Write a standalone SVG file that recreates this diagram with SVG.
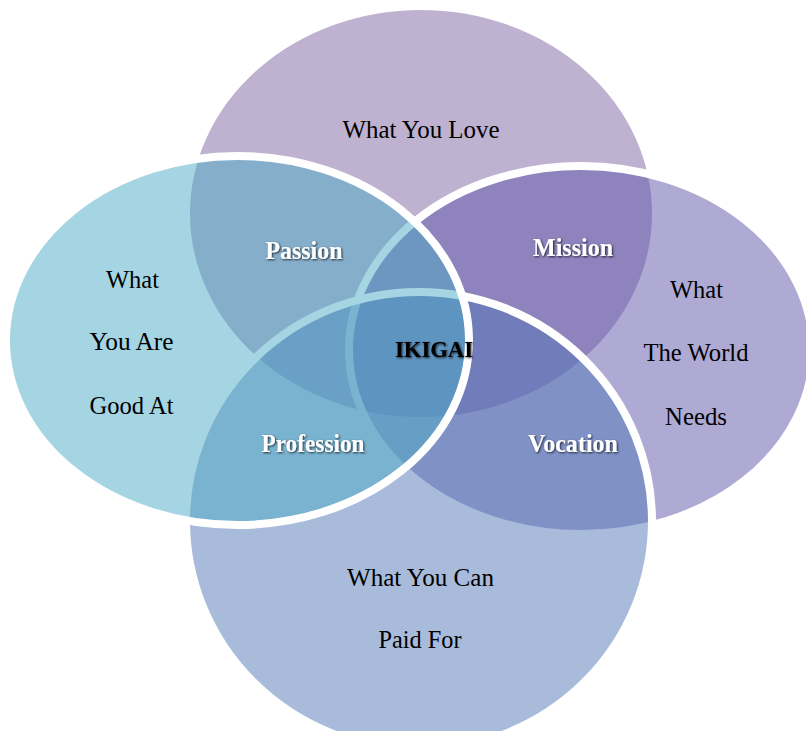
<svg xmlns="http://www.w3.org/2000/svg" width="806" height="731" viewBox="0 0 806 731">
  <style>
    .circ { stroke: #ffffff; stroke-width: 8; fill-opacity: 0.5; }
    .lbl { font-family: "Liberation Serif", "Times New Roman", serif; font-size: 25px; fill: #000000; text-anchor: middle; }
    .ovl { font-family: "Liberation Serif", "Times New Roman", serif; font-size: 25px; font-weight: bold; fill: #ffffff; text-anchor: middle; filter: url(#shadow); }
    .core { font-family: "Liberation Serif", "Times New Roman", serif; font-size: 24px; font-weight: bold; fill: #000000; text-anchor: middle; filter: url(#shadow); }
  </style>
  <defs>
    <filter id="shadow" x="-20%" y="-40%" width="140%" height="180%">
      <feGaussianBlur in="SourceAlpha" stdDeviation="1.3" result="b"/>
      <feOffset in="b" dx="1" dy="1" result="o"/>
      <feComponentTransfer in="o" result="s">
        <feFuncA type="linear" slope="0.8"/>
      </feComponentTransfer>
      <feMerge>
        <feMergeNode in="s"/>
        <feMergeNode in="SourceGraphic"/>
      </feMerge>
    </filter>
  </defs>
  <rect width="806" height="731" fill="#ffffff"/>

  <g id="what-you-love">
    <ellipse class="circ" cx="421" cy="213.5" rx="235" ry="207.5" fill="#8064A2"/>
  </g>
  <g id="what-the-world-needs">
    <ellipse class="circ" cx="581" cy="350" rx="232" ry="184" fill="#5D55A9"/>
  </g>
  <g id="what-you-can-paid-for">
    <ellipse class="circ" cx="419" cy="521" rx="233" ry="229" fill="#5177B7"/>
  </g>
  <g id="what-you-are-good-at">
    <ellipse class="circ" cx="237.5" cy="340.5" rx="231.5" ry="184.5" fill="#4BACC6"/>
  </g>

  <g id="connectors"></g>

  <g id="labels">
    <text class="lbl" x="421" y="138" textLength="157" lengthAdjust="spacingAndGlyphs">What You Love</text>
    <text class="lbl" x="132.5" y="288" textLength="53" lengthAdjust="spacingAndGlyphs">What</text>
    <text class="lbl" x="131.5" y="350" textLength="84" lengthAdjust="spacingAndGlyphs">You Are</text>
    <text class="lbl" x="131.5" y="414" textLength="84" lengthAdjust="spacingAndGlyphs">Good At</text>
    <text class="lbl" x="696.5" y="298" textLength="53" lengthAdjust="spacingAndGlyphs">What</text>
    <text class="lbl" x="696" y="361" textLength="105" lengthAdjust="spacingAndGlyphs">The World</text>
    <text class="lbl" x="696" y="425" textLength="62" lengthAdjust="spacingAndGlyphs">Needs</text>
    <text class="lbl" x="420.5" y="586" textLength="147" lengthAdjust="spacingAndGlyphs">What You Can</text>
    <text class="lbl" x="420" y="648" textLength="83" lengthAdjust="spacingAndGlyphs">Paid For</text>
  </g>
  <g id="passion"><text class="ovl" x="304" y="259" textLength="77" lengthAdjust="spacingAndGlyphs">Passion</text></g>
  <g id="mission"><text class="ovl" x="573" y="256" textLength="80" lengthAdjust="spacingAndGlyphs">Mission</text></g>
  <g id="profession"><text class="ovl" x="313" y="452" textLength="103" lengthAdjust="spacingAndGlyphs">Profession</text></g>
  <g id="vocation"><text class="ovl" x="573" y="452" textLength="90" lengthAdjust="spacingAndGlyphs">Vocation</text></g>
  <g id="ikigai"><text class="core" x="434" y="357" textLength="78" lengthAdjust="spacingAndGlyphs">IKIGAI</text></g>
</svg>
